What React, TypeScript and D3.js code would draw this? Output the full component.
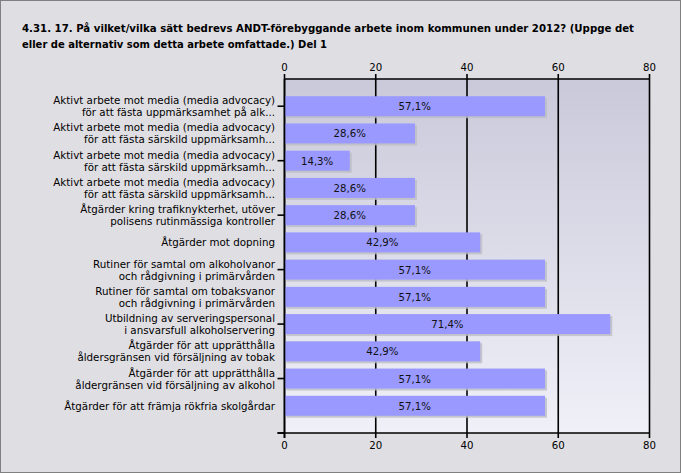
import React from "react";
import * as d3 from "d3";

const titleLines = [
  "4.31. 17. På vilket/vilka sätt bedrevs ANDT-förebyggande arbete inom kommunen under 2012? (Uppge det",
  "eller de alternativ som detta arbete omfattade.) Del 1",
];
const titleWidths = [612, 305];

const categories = [
  ["Aktivt arbete mot media (media advocacy)", "för att fästa uppmärksamhet på alk..."],
  ["Aktivt arbete mot media (media advocacy)", "för att fästa särskild uppmärksamh..."],
  ["Aktivt arbete mot media (media advocacy)", "för att fästa särskild uppmärksamh..."],
  ["Aktivt arbete mot media (media advocacy)", "för att fästa särskild uppmärksamh..."],
  ["Åtgärder kring trafiknykterhet, utöver", "polisens rutinmässiga kontroller"],
  ["Åtgärder mot dopning"],
  ["Rutiner för samtal om alkoholvanor", "och rådgivning i primärvården"],
  ["Rutiner för samtal om tobaksvanor", "och rådgivning i primärvården"],
  ["Utbildning av serveringspersonal", "i ansvarsfull alkoholservering"],
  ["Åtgärder för att upprätthålla", "åldersgränsen vid försäljning av tobak"],
  ["Åtgärder för att upprätthålla", "åldergränsen vid försäljning av alkohol"],
  ["Åtgärder för att främja rökfria skolgårdar"],
];

const values = [57.1, 28.6, 14.3, 28.6, 28.6, 42.9, 57.1, 57.1, 71.4, 42.9, 57.1, 57.1];
const xTicks = [0, 20, 40, 60, 80];

const W = 681;
const H = 473;
const left = 284.5;
const right = 649.5;
const top = 79;
const bottom = 433;
const font = "'DejaVu Sans', Verdana, sans-serif";

export default function App() {
  const x = d3.scaleLinear().domain([0, 80]).range([left, right]);
  const idx = categories.map((_, i) => i);
  const y = d3.scalePoint<number>().domain(idx).range([top, bottom]).padding(1);
  const step = y.step();
  const barH = 20;
  const yTickPos = d3.range(0, 7).map((k) => bottom - k * 2 * step);

  return (
    <svg
      width={W}
      height={H}
      style={{ position: "absolute", left: 0, top: 0, display: "block" }}
      fontFamily={font}
    >
      <defs>
        <linearGradient id="plotbg" x1="0" y1="0" x2="0" y2="1">
          <stop offset="0%" stopColor="#c9c9da" />
          <stop offset="100%" stopColor="#f0f0f8" />
        </linearGradient>
      </defs>
      <rect x={0.5} y={0.5} width={W - 1} height={H - 1} fill="#dfdee3" stroke="#808080" />
      {titleLines.map((t, i) => (
        <text
          key={i}
          x={22}
          y={32 + i * 16}
          fontSize={10.5}
          fontWeight="bold"
          fill="#000"
          textLength={titleWidths[i]}
          lengthAdjust="spacingAndGlyphs"
        >
          {t}
        </text>
      ))}
      <rect x={left} y={top} width={right - left} height={bottom - top} fill="url(#plotbg)" />
      {xTicks.map((t) => (
        <line key={"g" + t} x1={x(t)} x2={x(t)} y1={top} y2={bottom} stroke="#000" strokeWidth={1.6} />
      ))}
      {values.map((v, i) => {
        const cy = y(i)!;
        return (
          <g key={"b" + i}>
            <rect x={x(0) + 2} y={cy - barH / 2 + 2} width={x(v) - x(0)} height={barH} fill="#bdbdc4" opacity={0.8} />
            <rect x={x(0)} y={cy - barH / 2} width={x(v) - x(0)} height={barH} fill="#9999ff" />
            <text x={(x(0) + x(v)) / 2} y={cy + 4} fontSize={10.2} textAnchor="middle" fill="#111">
              {v.toFixed(1).replace(".", ",") + "%"}
            </text>
          </g>
        );
      })}
      <line x1={left} x2={right} y1={top} y2={top} stroke="#000" strokeWidth={1.6} />
      <line x1={left - 7} x2={right} y1={bottom} y2={bottom} stroke="#000" strokeWidth={1.6} />
      <line x1={left} x2={left} y1={top} y2={bottom + 5} stroke="#000" strokeWidth={1.6} />
      {xTicks.map((t) => (
        <g key={"t" + t}>
          <line x1={x(t)} x2={x(t)} y1={top - 5} y2={top} stroke="#000" strokeWidth={1.6} />
          <line x1={x(t)} x2={x(t)} y1={bottom} y2={bottom + 5} stroke="#000" strokeWidth={1.6} />
          <text x={x(t)} y={top - 8} fontSize={10.2} textAnchor="middle" fill="#000">{t}</text>
          <text x={x(t)} y={bottom + 16} fontSize={10.2} textAnchor="middle" fill="#000">{t}</text>
        </g>
      ))}
      {yTickPos.map((p, i) => (
        <line key={"yt" + i} x1={left - 7} x2={left} y1={p} y2={p} stroke="#000" strokeWidth={1.6} />
      ))}
      {categories.map((lines, i) => {
        const cy = y(i)!;
        const n = lines.length;
        return (
          <text key={"l" + i} textAnchor="end" fontSize={10.3} fill="#000">
            {lines.map((ln, j) => (
              <tspan key={j} x={275} y={cy + 4 + (j - (n - 1) / 2) * 12}>
                {ln}
              </tspan>
            ))}
          </text>
        );
      })}
    </svg>
  );
}
